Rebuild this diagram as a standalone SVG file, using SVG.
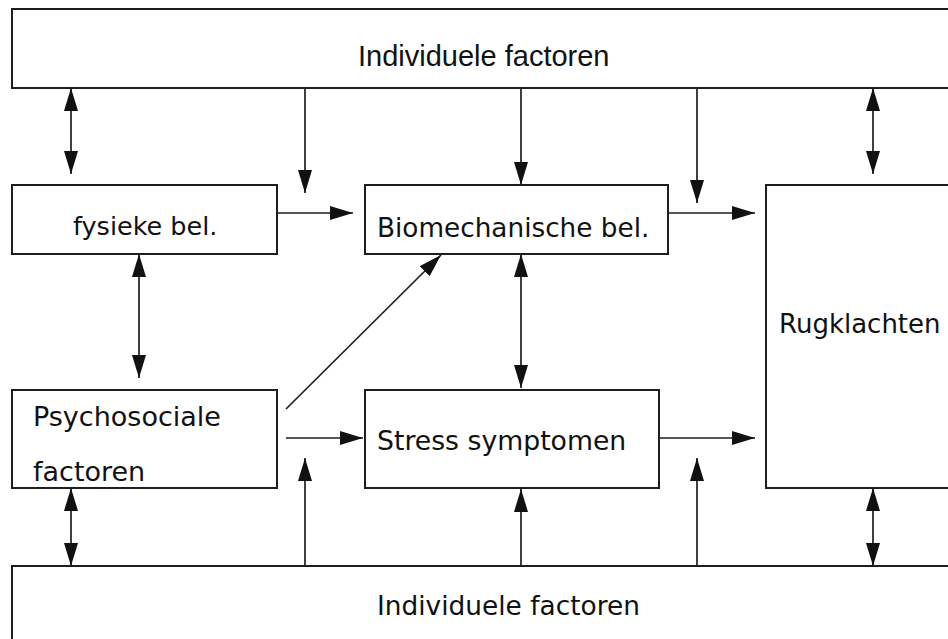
<svg xmlns="http://www.w3.org/2000/svg" width="948" height="639" viewBox="0 0 948 639">
<style>
.box{fill:#fff;stroke:#1e1e1e;stroke-width:2}
.t{font-family:"DejaVu Sans",sans-serif;fill:#111}
.tn{font-family:"Liberation Sans",Arial,sans-serif;fill:#111}
.c{stroke:#1e1e1e;stroke-width:1.7;fill:none;marker-end:url(#ah)}
.d{marker-start:url(#ah)}
</style>
<defs>
<marker id="ah" markerUnits="userSpaceOnUse" markerWidth="24" markerHeight="14" refX="23" refY="7" orient="auto-start-reverse" viewBox="0 0 24 14">
<path d="M0,0 L23,7 L0,14 z" fill="#111"/>
</marker>
</defs>
<rect width="948" height="639" fill="#fff"/>
<g id="top-individuele">
<rect class="box" x="12" y="9" width="950" height="79"/>
<text class="tn" x="358" y="66" font-size="29">Individuele factoren</text>
</g>
<g id="bottom-individuele">
<rect class="box" x="12" y="566" width="950" height="90"/>
<text class="t" x="377" y="615" font-size="26.4">Individuele factoren</text>
</g>
<g id="fysieke">
<rect class="box" x="12" y="185" width="265" height="69"/>
<text class="t" x="73" y="235" font-size="25.5">fysieke bel.</text>
</g>
<g id="biomechanische">
<rect class="box" x="365" y="185" width="303" height="69"/>
<text class="t" x="377" y="237" font-size="26.3">Biomechanische bel.</text>
</g>
<g id="rugklachten">
<rect class="box" x="766" y="185" width="200" height="303"/>
<text class="t" x="779" y="333" font-size="26">Rugklachten</text>
</g>
<g id="psychosociale">
<rect class="box" x="12" y="390" width="265" height="98"/>
<text class="t" x="33" y="426" font-size="27">Psychosociale</text>
<text class="t" x="33" y="481" font-size="27">factoren</text>
</g>
<g id="stress">
<rect class="box" x="365" y="390" width="294" height="98"/>
<text class="t" x="377" y="450" font-size="26.7">Stress symptomen</text>
</g>
<g id="connectors">
<line class="c d" x1="71" y1="88" x2="71" y2="174"/>
<line class="c d" x1="139" y1="254" x2="139" y2="378"/>
<line class="c d" x1="71" y1="488" x2="71" y2="566"/>
<line class="c d" x1="521" y1="254" x2="521" y2="388"/>
<line class="c d" x1="873" y1="88" x2="873" y2="174"/>
<line class="c d" x1="873" y1="488" x2="873" y2="566"/>
<line class="c" x1="305" y1="88" x2="305" y2="193"/>
<line class="c" x1="521" y1="88" x2="521" y2="185"/>
<line class="c" x1="697" y1="88" x2="697" y2="203"/>
<line class="c" x1="276" y1="213" x2="353" y2="213"/>
<line class="c" x1="668" y1="213" x2="755" y2="213"/>
<line class="c" x1="286" y1="438" x2="363" y2="438"/>
<line class="c" x1="659" y1="438" x2="755" y2="438"/>
<line class="c" x1="305" y1="566" x2="305" y2="458"/>
<line class="c" x1="521" y1="566" x2="521" y2="489"/>
<line class="c" x1="697" y1="566" x2="697" y2="458"/>
<line class="c" x1="286" y1="409" x2="441" y2="255"/>
</g>
</svg>
